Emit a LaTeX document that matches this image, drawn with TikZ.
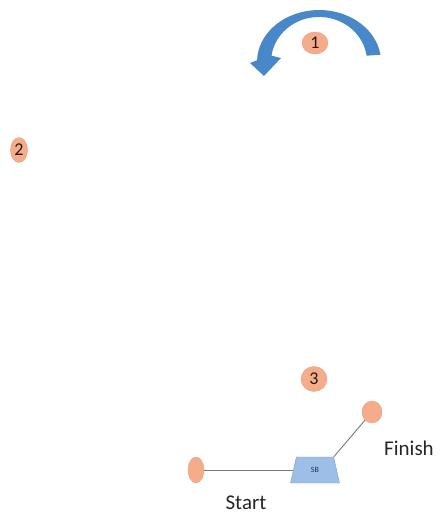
\documentclass[tikz,border=0pt]{standalone}
\usepackage{fontspec}
\setmainfont{Carlito}
\usepackage{tikz}
\usetikzlibrary{shapes.geometric}

\definecolor{dotfill}{RGB}{244,172,138}
\definecolor{dotline}{RGB}{236,160,128}
\definecolor{arrowblue}{RGB}{72,136,200}
\definecolor{sbfill}{RGB}{157,190,230}
\definecolor{sbline}{RGB}{120,160,210}
\definecolor{sbtext}{RGB}{30,50,95}
\definecolor{wire}{RGB}{120,120,120}

\begin{document}
\begin{tikzpicture}[
        x=1pt, y=-1pt,
        dot/.style={ellipse, fill=dotfill, draw=dotline, line width=0.4pt, inner sep=0pt},
        numdot/.style={dot, font=\fontsize{18}{18}\selectfont, text=black!80!brown},
        label text/.style={font=\fontsize{21}{21}\selectfont, text=black!85},
        wire/.style={draw=wire, line width=0.9pt}
    ]
        \useasboundingbox (0, 0) rectangle (442, 518);

        % curved arrow over dot 1
        \fill[arrowblue] (380.4, 54.8)
            arc[start angle=-8, end angle=-178, x radius=62, y radius=52]
            -- (250, 63) -- (264, 76) -- (281, 58) -- (271.5, 55.7)
            arc[start angle=-172, end angle=-8, x radius=48, y radius=45]
            -- cycle;

        \node[numdot, minimum width=26pt, minimum height=22pt] (one) at (315, 43) {1};
        \node[numdot, minimum width=17pt, minimum height=25pt] (two) at (19, 150) {2};
        \node[numdot, minimum width=26pt, minimum height=25pt] (three) at (314, 379) {3};

        % track
        \node[dot, minimum width=16pt, minimum height=26pt] (start) at (196, 470) {};
        \node[dot, minimum width=20pt, minimum height=22pt] (finish) at (372, 412) {};
        \node[trapezium, trapezium left angle=79, trapezium right angle=79,
              trapezium stretches=true, minimum width=49pt, minimum height=26pt,
              fill=sbfill, draw=sbline, line width=0.4pt,
              font=\fontsize{8}{8}\selectfont, text=sbtext] (sb) at (315, 470) {SB};

        \draw[wire] (start.east) -- (sb.west);
        \draw[wire] (sb.top right corner) -- (finish);

        \node[label text] (startlabel) at (246, 503) {Start};
        \node[label text] (finishlabel) at (409, 448) {Finish};
    \end{tikzpicture}
\end{document}
